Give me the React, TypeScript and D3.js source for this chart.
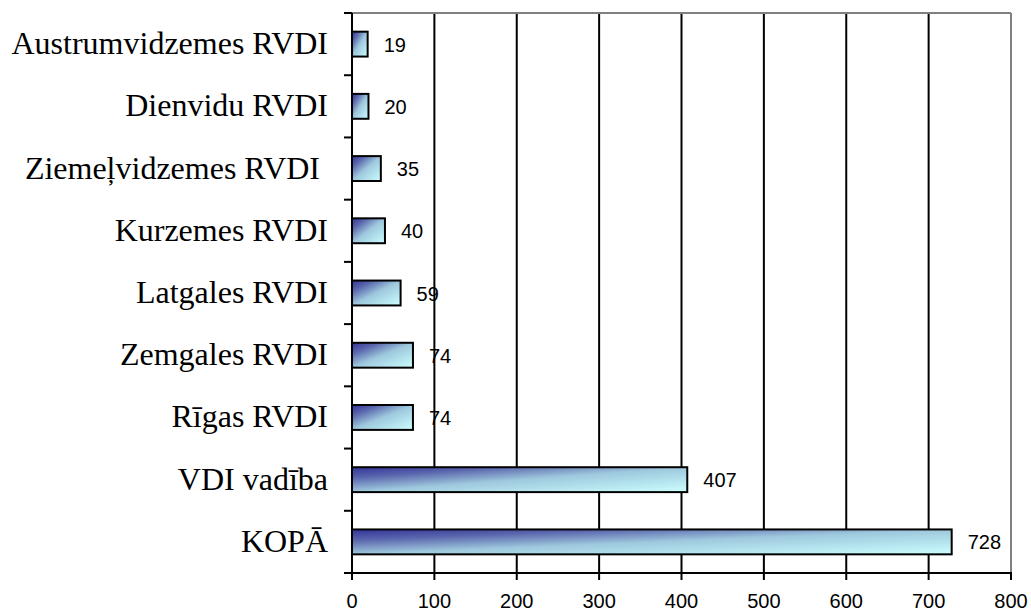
import React from "react";
import * as d3 from "d3";

const categories = [
  "Austrumvidzemes RVDI",
  "Dienvidu RVDI",
  "Ziemeļvidzemes RVDI ",
  "Kurzemes RVDI",
  "Latgales RVDI",
  "Zemgales RVDI",
  "Rīgas RVDI",
  "VDI vadība",
  "KOPĀ",
];
const values = [19, 20, 35, 40, 59, 74, 74, 407, 728];
const xTicks = [0, 100, 200, 300, 400, 500, 600, 700, 800];

const W = 1031;
const H = 613;
const M = { left: 352, right: 1011, top: 13, bottom: 573 };

export default function App() {
  const x = d3.scaleLinear().domain([0, 800]).range([M.left, M.right]);
  const y = d3
    .scaleBand<string>()
    .domain(categories)
    .range([M.top, M.bottom])
    .paddingInner(0.6)
    .paddingOuter(0.3);
  const boundaries = d3
    .range(categories.length + 1)
    .map((i) => M.top + i * ((M.bottom - M.top) / categories.length));
  const bw = y.bandwidth();

  return (
    <svg
      width={W}
      height={H}
      style={{ position: "absolute", left: 0, top: 0, background: "#fff" }}
    >
      <defs>
        <linearGradient id="barGrad" x1="0" y1="0" x2="1" y2="1">
          <stop offset="0" stopColor="#333399" />
          <stop offset="0.22" stopColor="#5a66ad" />
          <stop offset="0.5" stopColor="#9ec8dd" />
          <stop offset="1" stopColor="#ccffff" />
        </linearGradient>
      </defs>
      {xTicks.slice(1, -1).map((t) => (
        <line key={"g" + t} x1={x(t)} x2={x(t)} y1={M.top} y2={M.bottom} stroke="#000" strokeWidth={2} />
      ))}
      <line x1={M.left} x2={M.right} y1={M.top} y2={M.top} stroke="#808080" strokeWidth={2} />
      <line x1={M.right} x2={M.right} y1={M.top} y2={M.bottom} stroke="#808080" strokeWidth={2} />
      {categories.map((c, i) => (
        <rect
          key={"b" + i}
          x={x(0)}
          y={y(c)!}
          width={x(values[i]) - x(0)}
          height={bw}
          fill="url(#barGrad)"
          stroke="#000"
          strokeWidth={2}
        />
      ))}
      {categories.map((c, i) => (
        <text
          key={"v" + i}
          x={x(values[i]) + 16}
          y={y(c)! + bw / 2 + 7.5}
          fontFamily="'Liberation Sans', Arial, sans-serif"
          fontSize={20}
          fill="#000"
        >
          {values[i]}
        </text>
      ))}
      <line x1={M.left} x2={M.left} y1={M.top} y2={M.bottom + 1} stroke="#000" strokeWidth={2} />
      <line x1={M.left - 1} x2={M.right + 1} y1={M.bottom} y2={M.bottom} stroke="#000" strokeWidth={2} />
      {boundaries.map((b, i) => (
        <line key={"yt" + i} x1={M.left - 8} x2={M.left} y1={b} y2={b} stroke="#000" strokeWidth={2} />
      ))}
      {xTicks.map((t) => (
        <g key={"xt" + t}>
          <line x1={x(t)} x2={x(t)} y1={M.bottom} y2={M.bottom + 7} stroke="#000" strokeWidth={2} />
          <text
            x={x(t)}
            y={608}
            textAnchor="middle"
            fontFamily="'Liberation Sans', Arial, sans-serif"
            fontSize={20}
            fill="#000"
          >
            {t}
          </text>
        </g>
      ))}
      {categories.map((c, i) => (
        <text
          key={"c" + i}
          x={328}
          y={y(c)! + bw / 2 + 10}
          textAnchor="end"
          fontFamily="'Liberation Serif', 'Times New Roman', serif"
          fontSize={32}
          fill="#000"
          style={{ whiteSpace: "pre" }}
        >
          {c}
        </text>
      ))}
    </svg>
  );
}
